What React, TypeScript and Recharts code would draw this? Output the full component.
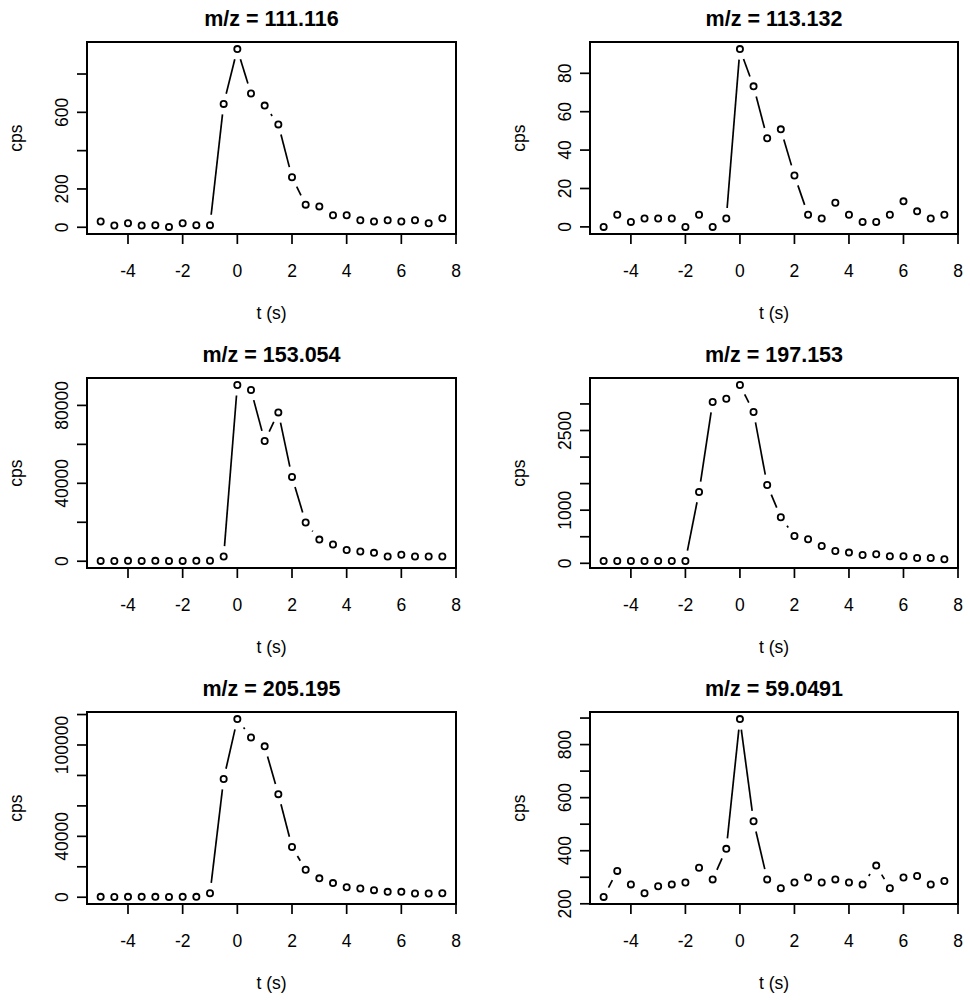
import React from "react";
import { ScatterChart, Scatter, XAxis, YAxis, ReferenceArea } from "recharts";

const FONT = '"Liberation Sans", Arial, Helvetica, sans-serif';

// time points (s), shared by all six traces
const TIMES = [-5, -4.5, -4, -3.5, -3, -2.5, -2, -1.5, -1, -0.5, 0, 0.5, 1, 1.5, 2, 2.5, 3, 3.5, 4, 4.5, 5, 5.5, 6, 6.5, 7, 7.5];
const X_TICKS = [-4, -2, 0, 2, 4, 6, 8];

const TITLES = ["m/z = 111.116", "m/z = 113.132", "m/z = 153.054", "m/z = 197.153", "m/z = 205.195", "m/z = 59.0491"];

// cps per trace
const CPS_111 = [30, 9, 21, 9, 11, 2, 21, 11, 11, 644, 930, 698, 635, 537, 261, 118, 109, 63, 63, 37, 30, 37, 30, 37, 21, 47];
const CPS_113 = [0, 6.3, 2.6, 4.4, 4.4, 4.4, 0, 6.3, 0, 4.4, 92.6, 73.2, 46.2, 50.8, 26.8, 6.3, 4.4, 12.6, 6.3, 2.6, 2.6, 6.3, 13.3, 8.1, 4.4, 6.3];
const CPS_153 = [180, 150, 210, 160, 190, 140, 170, 200, 230, 2400, 90450, 87900, 61700, 76400, 43300, 19900, 11100, 8600, 5800, 5000, 4300, 2400, 3300, 2400, 2400, 2400];
const CPS_197 = [44, 44, 44, 44, 44, 44, 44, 1343, 3036, 3099, 3356, 2848, 1474, 866, 514, 452, 326, 232, 201, 157, 169, 132, 132, 100, 100, 75];
const CPS_205 = [250, 230, 260, 240, 250, 230, 260, 270, 2650, 77650, 117000, 104900, 99100, 67700, 33000, 18100, 12400, 9300, 6600, 5750, 4650, 3540, 3540, 2430, 2430, 2650];
const CPS_59 = [226, 324, 273, 240, 266, 273, 280, 336, 292, 407, 896, 511, 292, 259, 280, 299, 280, 292, 280, 273, 344, 259, 299, 305, 273, 286];

const Y_TICKS_111 = [0, 200, 400, 600, 800];
const Y_TICKS_113 = [0, 20, 40, 60, 80];
const Y_TICKS_153 = [0, 20000, 40000, 60000, 80000];
const Y_TICKS_197 = [0, 500, 1000, 1500, 2000, 2500, 3000];
const Y_TICKS_205 = [0, 20000, 40000, 60000, 80000, 100000, 120000];
const Y_TICKS_59 = [200, 300, 400, 500, 600, 700, 800, 900];

// only the labels R had room for
const Y_LABELS_111 = [0, 200, 600];
const Y_LABELS_113 = [0, 20, 40, 60, 80];
const Y_LABELS_153 = [0, 40000, 80000];
const Y_LABELS_197 = [0, 1000, 2500];
const Y_LABELS_205 = [0, 40000, 100000];
const Y_LABELS_59 = [200, 400, 600, 800];

const PANELS = [
  { title: TITLES[0], cps: CPS_111, ticks: Y_TICKS_111, labels: Y_LABELS_111 },
  { title: TITLES[1], cps: CPS_113, ticks: Y_TICKS_113, labels: Y_LABELS_113 },
  { title: TITLES[2], cps: CPS_153, ticks: Y_TICKS_153, labels: Y_LABELS_153 },
  { title: TITLES[3], cps: CPS_197, ticks: Y_TICKS_197, labels: Y_LABELS_197 },
  { title: TITLES[4], cps: CPS_205, ticks: Y_TICKS_205, labels: Y_LABELS_205 },
  { title: TITLES[5], cps: CPS_59, ticks: Y_TICKS_59, labels: Y_LABELS_59 },
];

const ROW_TOPS = [0, 336, 670];
const BOX_H = [192, 190, 192];
const GAP = 10.5;

// R's type="b": segments that stop short of each point
function GapLine(props: any) {
  const pts = props.points || [];
  const segs: React.ReactNode[] = [];
  for (let i = 0; i < pts.length - 1; i++) {
    const a = pts[i];
    const b = pts[i + 1];
    const dx = b.x - a.x;
    const dy = b.y - a.y;
    const d = Math.sqrt(dx * dx + dy * dy);
    if (d <= 2 * GAP) continue;
    const ux = dx / d;
    const uy = dy / d;
    segs.push(
      <line
        key={i}
        x1={a.x + ux * GAP}
        y1={a.y + uy * GAP}
        x2={b.x - ux * GAP}
        y2={b.y - uy * GAP}
        stroke="#000"
        strokeWidth={1.7}
      />
    );
  }
  return <g>{segs}</g>;
}

function OpenDot(props: any) {
  return <circle cx={props.cx} cy={props.cy} r={3.1} fill="none" stroke="#000" strokeWidth={1.8} />;
}

function Panel({ p, col, row }: { p: any; col: number; row: number }) {
  const data = TIMES.map((t, i) => ({ t, v: p.cps[i] }));
  const lo = Math.min(...p.cps);
  const hi = Math.max(...p.cps);
  const pad = (hi - lo) * 0.04;
  const yDomain = [lo - pad, hi + pad];
  const h = 42 + BOX_H[row] + 99;
  const margin = col === 0 ? { top: 42, right: 29, bottom: 69, left: 27 } : { top: 42, right: 12, bottom: 69, left: 45 };

  const xTick = (tp: any) => (
    <text x={tp.x} y={tp.y + 30.5} textAnchor="middle" fontSize={17.5} fontFamily={FONT} fill="#000">
      {tp.payload.value}
    </text>
  );

  const yTick = (tp: any) => {
    if (!p.labels.includes(tp.payload.value)) return <g />;
    const bx = tp.x - 6.7;
    return (
      <text x={bx} y={tp.y} transform={`rotate(-90, ${bx}, ${tp.y})`} textAnchor="middle" fontSize={17.5} fontFamily={FONT} fill="#000">
        {String(tp.payload.value)}
      </text>
    );
  };

  const frameText = (lp: any) => {
    const vb = lp.viewBox;
    const cx = vb.x + vb.width / 2;
    const cy = vb.y + vb.height / 2;
    const lx = vb.x - 65;
    return (
      <g fontFamily={FONT} fill="#000">
        <text x={cx} y={vb.y - 16.3} textAnchor="middle" fontSize={21.5} fontWeight="bold">
          {p.title}
        </text>
        <text x={cx} y={vb.y + vb.height + 85} textAnchor="middle" fontSize={17.5}>
          t (s)
        </text>
        <text x={lx} y={cy} transform={`rotate(-90, ${lx}, ${cy})`} textAnchor="middle" fontSize={17.5}>
          cps
        </text>
      </g>
    );
  };

  return (
    <div style={{ position: "absolute", left: col * 485, top: ROW_TOPS[row] }}>
      <ScatterChart width={485} height={h} margin={margin}>
        <XAxis
          type="number"
          dataKey="t"
          domain={[-5.5, 8]}
          ticks={X_TICKS}
          allowDataOverflow
          height={30}
          axisLine={false}
          tickSize={10}
          tickLine={{ stroke: "#000", strokeWidth: 1.7 }}
          tick={xTick}
        />
        <YAxis
          type="number"
          dataKey="v"
          domain={yDomain}
          ticks={p.ticks}
          allowDataOverflow
          width={60}
          axisLine={false}
          tickSize={10}
          tickLine={{ stroke: "#000", strokeWidth: 1.7 }}
          tick={yTick}
        />
        <ReferenceArea
          x1={-5.5}
          x2={8}
          y1={yDomain[0]}
          y2={yDomain[1]}
          fill="none"
          fillOpacity={0}
          stroke="#000"
          strokeWidth={2}
          label={frameText}
        />
        <Scatter
          data={data}
          fill="#000"
          line={<GapLine />}
          shape={OpenDot}
          isAnimationActive={false}
        />
      </ScatterChart>
    </div>
  );
}

export default function App() {
  return (
    <div style={{ position: "absolute", left: 0, top: 0, width: 970, height: 1000, background: "#fff" }}>
      {PANELS.map((p, i) => (
        <Panel key={i} p={p} col={i % 2} row={Math.floor(i / 2)} />
      ))}
    </div>
  );
}
